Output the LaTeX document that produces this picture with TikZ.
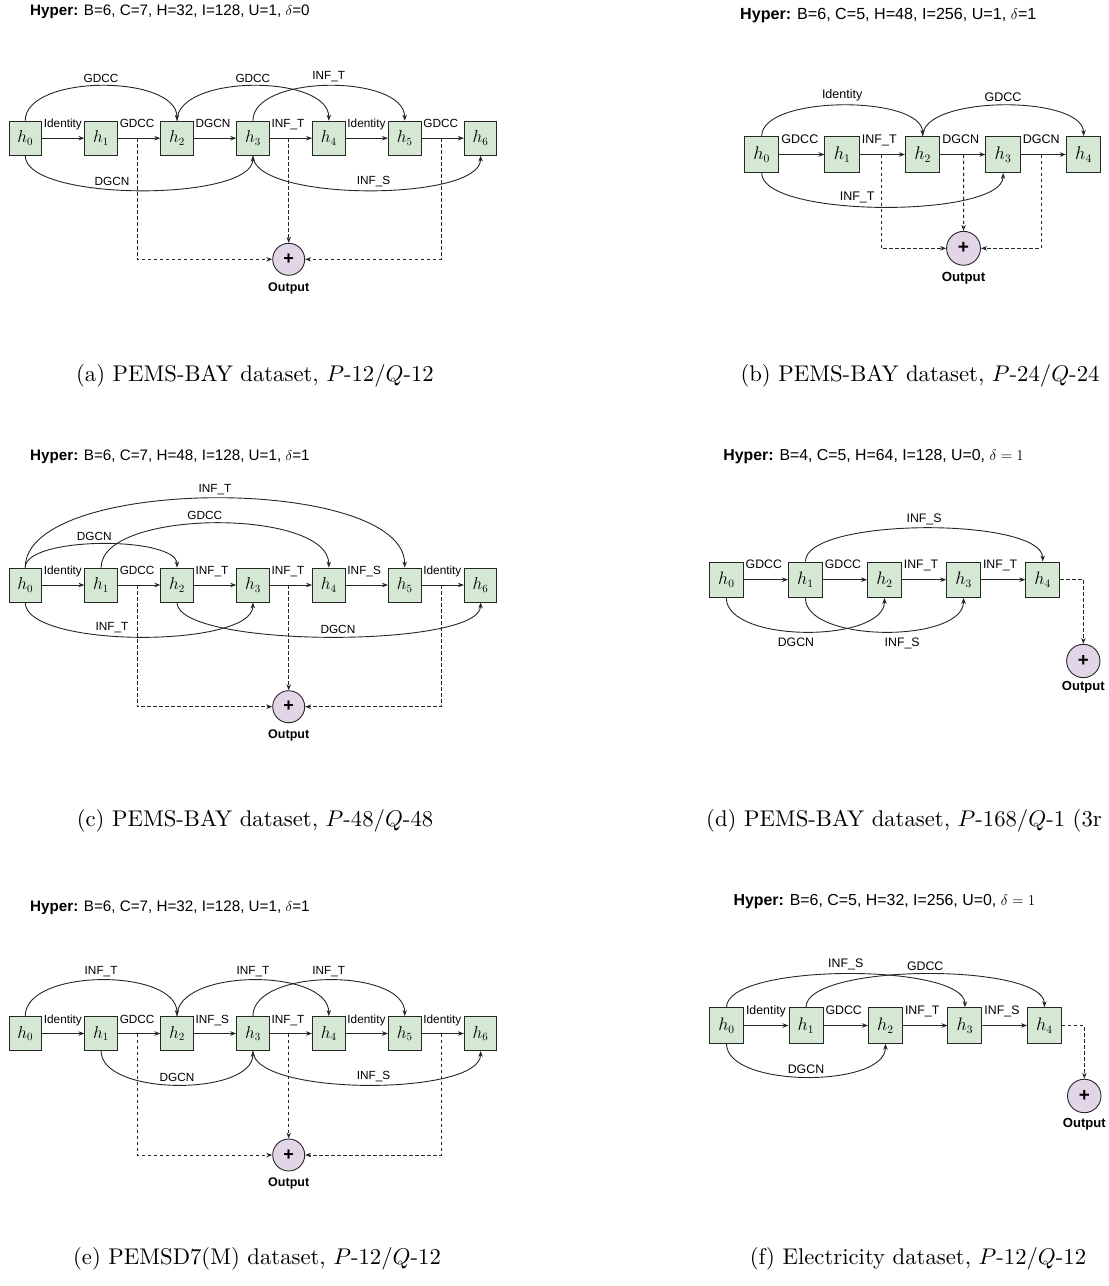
\documentclass[tikz,border=0pt]{standalone}
\usepackage{fontspec}
\usepackage{graphicx}
\usetikzlibrary{arrows.meta,calc}
\newfontfamily\helv{Liberation Sans}
\definecolor{boxg}{HTML}{D5E8D4}
\definecolor{outp}{HTML}{E1D5E7}
\definecolor{edge}{HTML}{262626}
\newcommand{\labfont}{\helv\fontsize{11.8}{13}\selectfont}
\newcommand{\captext}[1]{\scalebox{2.27}{\fontsize{10}{12}\selectfont #1}}
\tikzset{
  box/.style={draw=edge, fill=boxg, line width=0.9pt, minimum width=32.5pt, minimum height=34pt, inner sep=0pt, font=\fontsize{16}{16}\selectfont},
  outc/.style={circle, draw=edge, fill=outp, line width=0.9pt, minimum size=32pt, inner sep=0pt, font=\helv\bfseries\fontsize{18}{18}\selectfont},
  conn/.style={-{Stealth[length=6pt,width=4.5pt]}, line width=0.9pt, draw=edge},
  dsh/.style={conn, dash pattern=on 3.5pt off 2.5pt},
  lab/.style={font=\labfont, inner sep=3pt},
  hl/.style={font=\labfont, inner sep=0pt, anchor=base west, pos=0, xshift=1.5pt, yshift=10.3pt},
  outl/.style={font=\helv\bfseries\fontsize{12.5}{14}\selectfont, anchor=base, inner sep=0pt},
  hyp/.style={anchor=base west, inner sep=0pt, font=\helv\fontsize{15.2}{17}\selectfont},
  captxt/.style={anchor=base, inner sep=0pt},
}
\begin{document}
\begin{tikzpicture}[x=1pt,y=-1pt]
\useasboundingbox (0,0) rectangle (1109,1286);

%================ (a)
\begin{scope}[shift={(25.2,138.2)}]
\node[hyp] (ahyp) at (4.8,-122.5) {\textbf{Hyper:} B=6, C=7, H=32, I=128, U=1, $\delta$=0};
\node[box] (a0) at (0,0) {$h_0$};
\node[box] (a1) at (75.9,0) {$h_1$};
\node[box] (a2) at (151.8,0) {$h_2$};
\node[box] (a3) at (227.7,0) {$h_3$};
\node[box] (a4) at (303.6,0) {$h_4$};
\node[box] (a5) at (379.5,0) {$h_5$};
\node[box] (a6) at (455.4,0) {$h_6$};
\draw[conn] (a0) -- (a1) node[hl]{Identity};
\draw[conn] (a1) -- (a2) node[hl]{GDCC};
\draw[conn] (a2) -- (a3) node[hl]{DGCN};
\draw[conn] (a3) -- (a4) node[hl]{INF\_T};
\draw[conn] (a4) -- (a5) node[hl]{Identity};
\draw[conn] (a5) -- (a6) node[hl]{GDCC};
\draw[conn] (a0.north) .. controls +(0,-46.7) and +(0,-46.7) .. (a2.north) node[lab,midway,above]{GDCC};
\draw[conn] (a2.north) .. controls +(0,-46.7) and +(0,-46.7) .. (a4.north) node[lab,midway,above]{GDCC};
\draw[conn] (a3.north) .. controls +(0,-46.7) and +(0,-46.7) .. (a5.north) node[lab,midway,above]{INF\_T};
\draw[conn] (a0.south) .. controls +(0,46.3) and +(0,46.3) .. (a3.south) node[lab,pos=0.42,above]{DGCN};
\draw[conn] (a3.south) .. controls +(0,46.3) and +(0,46.3) .. (a6.south) node[lab,pos=0.52,above]{INF\_S};
\coordinate (am12) at (111.8,0);
\coordinate (am34) at (263.5,0);
\coordinate (am56) at (415.8,0);
\node[outc] (ao) at (263.5,121.1) {+};
\node[outl] (aol) at (263.5,153.5) {Output};
\draw[dsh] (am12) |- (ao);
\draw[dsh] (am34) -- (ao);
\draw[dsh] (am56) |- (ao);
\end{scope}

%================ (b)
\begin{scope}[shift={(761.7,154.5)}, scale=1.06, transform shape]
\node[hyp] (bhyp) at (-20.5,-126.9) {\textbf{Hyper:} B=6, C=5, H=48, I=256, U=1, $\delta$=1};
\node[box] (b0) at (0,0) {$h_0$};
\node[box] (b1) at (75.9,0) {$h_1$};
\node[box] (b2) at (151.8,0) {$h_2$};
\node[box] (b3) at (227.7,0) {$h_3$};
\node[box] (b4) at (303.6,0) {$h_4$};
\draw[conn] (b0) -- (b1) node[hl]{GDCC};
\draw[conn] (b1) -- (b2) node[hl]{INF\_T};
\draw[conn] (b2) -- (b3) node[hl]{DGCN};
\draw[conn] (b3) -- (b4) node[hl]{DGCN};
\draw[conn] (b0.north) .. controls +(0,-38.7) and +(0,-38.7) .. (b2.north) node[lab,midway,above]{Identity};
\draw[conn] (b2.north) .. controls +(0,-38.7) and +(0,-38.7) .. (b4.north) node[lab,midway,above]{GDCC};
\draw[conn] (b0.south) .. controls +(0,42.7) and +(0,42.7) .. (b3.south) node[lab,pos=0.43,above]{INF\_T};
\coordinate (bm12) at (112.5,0);
\coordinate (bm23) at (190.4,0);
\coordinate (bm34) at (263.5,0);
\node[outc] (bo) at (190.4,88.5) {+};
\node[outl] (bol) at (190.4,119.5) {Output};
\draw[dsh] (bm12) |- (bo);
\draw[dsh] (bm23) -- (bo);
\draw[dsh] (bm34) |- (bo);
\end{scope}

%================ (c)
\begin{scope}[shift={(25.2,585)}]
\node[hyp] (chyp) at (4.8,-124.3) {\textbf{Hyper:} B=6, C=7, H=48, I=128, U=1, $\delta$=1};
\node[box] (c0) at (0,0) {$h_0$};
\node[box] (c1) at (75.9,0) {$h_1$};
\node[box] (c2) at (151.8,0) {$h_2$};
\node[box] (c3) at (227.7,0) {$h_3$};
\node[box] (c4) at (303.6,0) {$h_4$};
\node[box] (c5) at (379.5,0) {$h_5$};
\node[box] (c6) at (455.4,0) {$h_6$};
\draw[conn] (c0) -- (c1) node[hl]{Identity};
\draw[conn] (c1) -- (c2) node[hl]{GDCC};
\draw[conn] (c2) -- (c3) node[hl]{INF\_T};
\draw[conn] (c3) -- (c4) node[hl]{INF\_T};
\draw[conn] (c4) -- (c5) node[hl]{INF\_S};
\draw[conn] (c5) -- (c6) node[hl]{Identity};
\draw[conn] (c0.north) .. controls +(0,-92.5) and +(0,-92.5) .. (c5.north) node[lab,midway,above]{INF\_T};
\draw[conn] (c1.north) .. controls +(0,-59.2) and +(0,-59.2) .. (c4.north) node[lab,pos=0.47,above]{GDCC};
\draw[conn] (c0.north) .. controls +(0,-31.6) and +(0,-31.6) .. (c2.north) node[lab,pos=0.47,above]{DGCN};
\draw[conn] (c0.south) .. controls +(0,45.9) and +(0,45.9) .. (c3.south) node[lab,pos=0.42,above]{INF\_T};
\draw[conn] (c2.south) .. controls +(0,45.9) and +(0,45.9) .. (c6.south) node[lab,pos=0.52,above]{DGCN};
\coordinate (cm12) at (111.8,0);
\coordinate (cm34) at (263.5,0);
\coordinate (cm56) at (415.8,0);
\node[outc] (co) at (263.5,121.7) {+};
\node[outl] (col) at (263.5,153.3) {Output};
\draw[dsh] (cm12) |- (co);
\draw[dsh] (cm34) -- (co);
\draw[dsh] (cm56) |- (co);
\end{scope}

%================ (d)
\begin{scope}[shift={(726.3,579.7)}, scale=1.042, transform shape]
\node[hyp] (dhyp) at (-2.9,-114.2) {\textbf{Hyper:} B=4, C=5, H=64, I=128, U=0, $\delta = 1$};
\node[box] (d0) at (0,0) {$h_0$};
\node[box] (d1) at (75.9,0) {$h_1$};
\node[box] (d2) at (151.8,0) {$h_2$};
\node[box] (d3) at (227.7,0) {$h_3$};
\node[box] (d4) at (303.6,0) {$h_4$};
\draw[conn] (d0) -- (d1) node[hl]{GDCC};
\draw[conn] (d1) -- (d2) node[hl]{GDCC};
\draw[conn] (d2) -- (d3) node[hl]{INF\_T};
\draw[conn] (d3) -- (d4) node[hl]{INF\_T};
\draw[conn] (d1.north) .. controls +(0,-42.7) and +(0,-42.7) .. (d4.north) node[lab,midway,above]{INF\_S};
\draw[conn] (d0.south) .. controls +(0,43.5) and +(0,43.5) .. (d2.south) node[lab,pos=0.46,below=3pt]{DGCN};
\draw[conn] (d1.south) .. controls +(0,43.5) and +(0,43.5) .. (d3.south) node[lab,pos=0.575,below=3pt]{INF\_S};
\node[outc] (do) at (342.6,78) {+};
\node[outl] (dol) at (342.6,106.5) {Output};
\draw[dsh] (d4.east) -| (do);
\end{scope}

%================ (e)
\begin{scope}[shift={(25.2,1033.5)}]
\node[hyp] (ehyp) at (4.8,-122.5) {\textbf{Hyper:} B=6, C=7, H=32, I=128, U=1, $\delta$=1};
\node[box] (e0) at (0,0) {$h_0$};
\node[box] (e1) at (75.9,0) {$h_1$};
\node[box] (e2) at (151.8,0) {$h_2$};
\node[box] (e3) at (227.7,0) {$h_3$};
\node[box] (e4) at (303.6,0) {$h_4$};
\node[box] (e5) at (379.5,0) {$h_5$};
\node[box] (e6) at (455.4,0) {$h_6$};
\draw[conn] (e0) -- (e1) node[hl]{Identity};
\draw[conn] (e1) -- (e2) node[hl]{GDCC};
\draw[conn] (e2) -- (e3) node[hl]{INF\_S};
\draw[conn] (e3) -- (e4) node[hl]{INF\_T};
\draw[conn] (e4) -- (e5) node[hl]{Identity};
\draw[conn] (e5) -- (e6) node[hl]{Identity};
\draw[conn] (e0.north) .. controls +(0,-48) and +(0,-48) .. (e2.north) node[lab,midway,above]{INF\_T};
\draw[conn] (e2.north) .. controls +(0,-48) and +(0,-48) .. (e4.north) node[lab,midway,above]{INF\_T};
\draw[conn] (e3.north) .. controls +(0,-48) and +(0,-48) .. (e5.north) node[lab,midway,above]{INF\_T};
\draw[conn] (e1.south) .. controls +(0,45.3) and +(0,45.3) .. (e3.south) node[lab,midway,above]{DGCN};
\draw[conn] (e3.south) .. controls +(0,45.3) and +(0,45.3) .. (e6.south) node[lab,pos=0.52,above]{INF\_S};
\coordinate (em12) at (111.8,0);
\coordinate (em34) at (263.5,0);
\coordinate (em56) at (415.8,0);
\node[outc] (eo) at (263.5,121.5) {+};
\node[outl] (eol) at (263.5,153.2) {Output};
\draw[dsh] (em12) |- (eo);
\draw[dsh] (em34) -- (eo);
\draw[dsh] (em56) |- (eo);
\end{scope}

%================ (f)
\begin{scope}[shift={(726.5,1025.5)}, scale=1.047, transform shape]
\node[hyp] (fhyp) at (6.5,-115.1) {\textbf{Hyper:} B=6, C=5, H=32, I=256, U=0, $\delta = 1$};
\node[box] (f0) at (0,0) {$h_0$};
\node[box] (f1) at (75.9,0) {$h_1$};
\node[box] (f2) at (151.8,0) {$h_2$};
\node[box] (f3) at (227.7,0) {$h_3$};
\node[box] (f4) at (303.6,0) {$h_4$};
\draw[conn] (f0) -- (f1) node[hl]{Identity};
\draw[conn] (f1) -- (f2) node[hl]{GDCC};
\draw[conn] (f2) -- (f3) node[hl]{INF\_T};
\draw[conn] (f3) -- (f4) node[hl]{INF\_S};
\draw[conn] (f0.north) .. controls +(0,-42.4) and +(0,-42.4) .. (f3.north) node[lab,midway,above]{INF\_S};
\draw[conn] (f1.north) .. controls +(0,-42.4) and +(0,-42.4) .. (f4.north) node[lab,midway,above]{GDCC};
\draw[conn] (f0.south) .. controls +(0,42.4) and +(0,42.4) .. (f2.south) node[lab,midway,above]{DGCN};
\node[outc] (fo) at (341.7,67.3) {+};
\node[outl] (fol) at (341.7,97.3) {Output};
\draw[dsh] (f4.east) -| (fo);
\end{scope}

%================ captions
\node[captxt] (capa) at (255,381) {\captext{(a) PEMS-BAY dataset, $P$-12/$Q$-12}};
\node[captxt] (capb) at (920,381) {\captext{(b) PEMS-BAY dataset, $P$-24/$Q$-24}};
\node[captxt] (capc) at (255,826) {\captext{(c) PEMS-BAY dataset, $P$-48/$Q$-48}};
\node[captxt, anchor=base west] (capd) at (706,826) {\captext{(d) PEMS-BAY dataset, $P$-168/$Q$-1 (3r}};
\node[captxt] (cape) at (257,1264) {\captext{(e) PEMSD7(M) dataset, $P$-12/$Q$-12}};
\node[captxt] (capf) at (918,1264) {\captext{(f) Electricity dataset, $P$-12/$Q$-12}};
\end{tikzpicture}
\end{document}
